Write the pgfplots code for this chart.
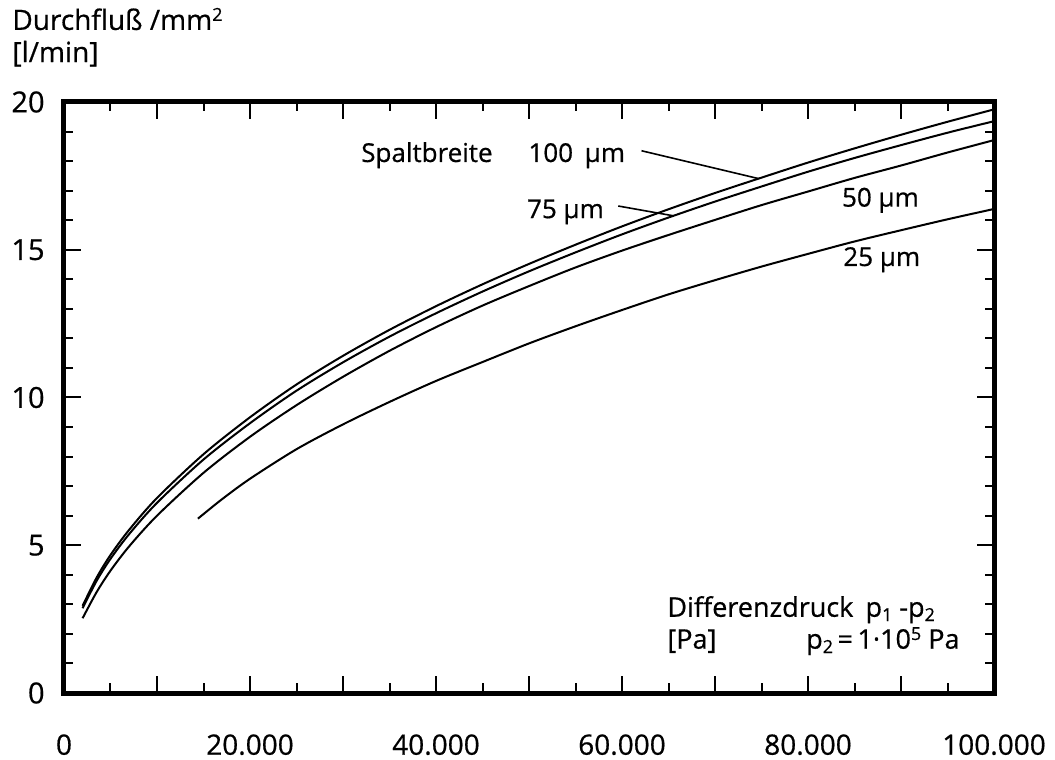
\documentclass[border=0pt]{standalone}
\usepackage{fontspec}
\setmainfont{Open Sans}[FakeBold=0.6]
\usepackage{pgfplots}
\usepackage{pgfplotstable}
\pgfplotsset{compat=1.18}
\usetikzlibrary{calc}
\newcommand\lsub[1]{\raisebox{-0.3ex}{\fontsize{9}{9}\selectfont #1}}
\newcommand\lsup[1]{\raisebox{0.6ex}{\fontsize{9}{9}\selectfont #1}}
\pgfplotstableread{
x y
2000 2.95
3500 3.90
5000 4.67
7000 5.52
10000 6.60
15000 8.08
20000 9.33
25000 10.44
30000 11.41
35000 12.29
40000 13.09
45000 13.83
50000 14.52
55000 15.17
60000 15.79
65000 16.37
70000 16.92
75000 17.44
80000 17.95
85000 18.43
90000 18.89
95000 19.33
100000 19.75
}\dataA
\pgfplotstableread{
x y
2000 2.87
3500 3.79
5000 4.54
7000 5.375
10000 6.435
15000 7.90
20000 9.13
25000 10.23
30000 11.19
35000 12.06
40000 12.85
45000 13.585
50000 14.27
55000 14.91
60000 15.52
65000 16.09
70000 16.63
75000 17.14
80000 17.64
85000 18.105
90000 18.54
95000 18.96
100000 19.35
}\dataB
\pgfplotstableread{
x y
2000 2.53
3500 3.41
5000 4.14
7000 4.96
10000 6.00
15000 7.45
20000 8.67
25000 9.74
30000 10.70
35000 11.58
40000 12.38
45000 13.11
50000 13.77
55000 14.40
60000 14.97
65000 15.50
70000 16.01
75000 16.51
80000 16.97
85000 17.43
90000 17.85
95000 18.29
100000 18.71
}\dataC
\pgfplotstableread{
x y
14400 5.90
17000 6.56
20000 7.25
25000 8.25
30000 9.09
35000 9.85
40000 10.56
45000 11.20
50000 11.83
55000 12.41
60000 12.96
65000 13.49
70000 13.97
75000 14.43
80000 14.86
85000 15.28
90000 15.66
95000 16.03
100000 16.38
}\dataD
\begin{document}
\begin{tikzpicture}
\begin{axis}[
  scale only axis, width=465pt, height=295.5pt,
  at={(0,0)}, anchor=south west,
  xmin=0, xmax=100000, ymin=0, ymax=20,
  axis line style={line width=2.5pt},
  tick style={black, line width=1pt},
  tick align=inside,
  major tick length=8.5pt, minor tick length=4.75pt,
  xtick={0,10000,...,100000},
  xticklabels={0,,20.000,,40.000,,60.000,,80.000,,100.000},
  minor x tick num=1,
  ytick={0,5,...,20},
  yticklabels={0,5,10,15,20},
  minor y tick num=4,
  scaled x ticks=false,
  xticklabel style={font=\fontsize{14}{16}\selectfont, inner sep=0pt, anchor=north, yshift=-20.5pt},
  yticklabel style={font=\fontsize{14.5}{16}\selectfont, inner sep=0pt, anchor=east, xshift=-9.5pt},
  clip=false,
]
\addplot[black, line width=1pt, smooth, no marks] table[x=x,y=y] {\dataA};
\addplot[black, line width=1pt, smooth, no marks] table[x=x,y=y] {\dataB};
\addplot[black, line width=1pt, smooth, no marks] table[x=x,y=y] {\dataC};
\addplot[black, line width=1pt, smooth, no marks] table[x=x,y=y] {\dataD};

\draw[line width=0.8pt] (axis cs:62100,18.35) -- (axis cs:74650,17.41);
\draw[line width=0.8pt] (axis cs:59600,16.48) -- (axis cs:65500,16.15);

\node[anchor=base east, inner sep=0pt, font=\fontsize{13}{15}\selectfont] at (axis cs:46130,17.97) {Spaltbreite};
\node[anchor=base west, inner sep=0pt, font=\fontsize{13}{15}\selectfont] at (axis cs:49900,17.97) {100\hspace{0.45em}µm};
\node[anchor=base west, inner sep=0pt, font=\fontsize{13}{15}\selectfont] at (axis cs:49750,16.07) {75 µm};
\node[anchor=base west, inner sep=0pt, font=\fontsize{13}{15}\selectfont] at (axis cs:83620,16.46) {50 µm};
\node[anchor=base west, inner sep=0pt, font=\fontsize{13}{15}\selectfont] at (axis cs:83760,14.45) {25 µm};

\node[anchor=base west, inner sep=0pt, font=\fontsize{13.5}{15}\selectfont] at (axis cs:64840,2.58) {Differenzdruck\hspace{0.45em}p\lsub{1} -p\lsub{2}};
\node[anchor=base west, inner sep=0pt, font=\fontsize{13.5}{15}\selectfont] at (axis cs:64840,1.50) {[Pa]};
\node[anchor=base east, inner sep=0pt, font=\fontsize{13.5}{15}\selectfont] at (axis cs:96340,1.50) {p\lsub{2}\,=\,1·10\lsup{5} Pa};

\node[anchor=base west, inner sep=0pt, font=\fontsize{14}{16}\selectfont] at (axis cs:-5590,22.44) {Durchfluß /mm\lsup{2}};
\node[anchor=base west, inner sep=0pt, font=\fontsize{14}{16}\selectfont] at (axis cs:-5590,21.35) {[l/min]};
\end{axis}
\pgfresetboundingbox
\path[use as bounding box] ($(current axis.south west)+(-32pt,-33.5pt)$) rectangle ($(current axis.north east)+(30.5pt,51pt)$);
\end{tikzpicture}
\end{document}
